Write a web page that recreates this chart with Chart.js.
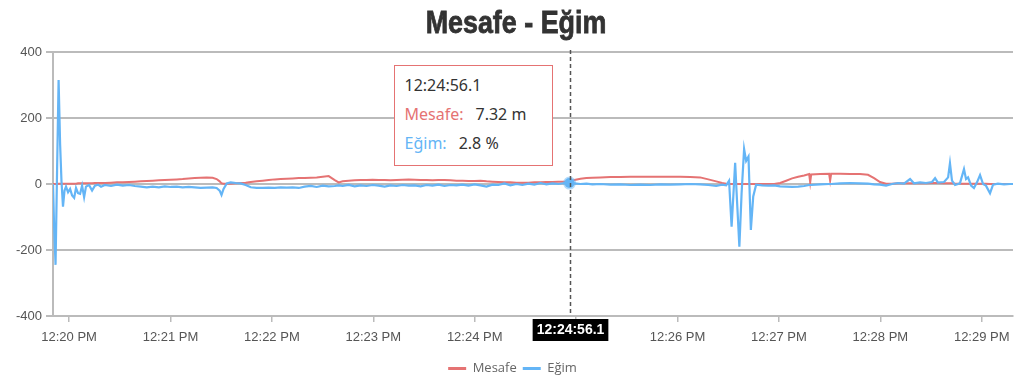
<!DOCTYPE html>
<html>
<head>
<meta charset="utf-8">
<script src="https://cdn.jsdelivr.net/npm/chart.js@4.4.1/dist/chart.umd.min.js"></script>
<style>
  html, body { margin: 0; padding: 0; background: #fff; }
  #wrap { position: relative; width: 1023px; height: 385px; }
  #tip {
    position: absolute; background: #fff; border: 1px solid #e57373;
    padding: 5px 7px 7px 10px; width: 140px; font-family: 'Noto Sans', sans-serif; font-size: 16px;
    line-height: 29px; color: #333; white-space: nowrap; opacity: 0; pointer-events: none;
  }
  #tip .lbl { display: inline-block; margin-right: 12px; }
</style>
</head>
<body>
<div id="wrap">
  <canvas id="myChart" width="1023" height="385"></canvas>
  <div id="tip"></div>
</div>
<script>
// seconds after 12:00:00 PM
const times = [
  1190.5, 1191.1, 1192.0, 1192.9, 1193.8, 1194.7, 1195.5, 1196.4, 1197.3, 1198.2,
  1199.4, 1200.6, 1201.8, 1203.0, 1204.1, 1205.3, 1206.5, 1207.7, 1208.9, 1210.0,
  1211.8, 1213.6, 1215.3, 1217.1, 1218.9, 1221.2, 1224.8, 1228.3, 1231.8, 1235.4,
  1238.9, 1242.5, 1246.0, 1249.5, 1253.1, 1256.6, 1260.1, 1263.7, 1267.2, 1270.8,
  1274.3, 1277.8, 1281.4, 1284.9, 1287.3, 1289.1, 1290.2, 1291.4, 1293.3, 1295.6,
  1298.6, 1301.5, 1304.5, 1307.5, 1311.0, 1314.6, 1318.1, 1321.7, 1325.2, 1328.8,
  1332.3, 1335.9, 1339.4, 1343.0, 1346.5, 1350.1, 1353.6, 1357.2, 1359.5, 1361.9,
  1365.4, 1369.0, 1372.5, 1376.0, 1379.6, 1383.1, 1386.7, 1390.2, 1393.8, 1397.3,
  1400.9, 1404.4, 1408.0, 1411.5, 1415.0, 1418.6, 1422.1, 1425.7, 1429.2, 1432.8,
  1436.3, 1439.9, 1443.4, 1447.0, 1450.5, 1454.0, 1457.6, 1461.1, 1464.7, 1468.2,
  1471.8, 1475.3, 1478.9, 1482.4, 1486.0, 1489.5, 1493.1, 1496.1, 1499.0, 1502.6,
  1506.1, 1509.7, 1514.4, 1520.3, 1526.2, 1532.1, 1538.0, 1543.9, 1549.8, 1555.7,
  1561.6, 1567.5, 1573.4, 1578.2, 1582.9, 1586.4, 1588.8, 1590.5, 1592.0, 1593.2,
  1594.1, 1595.3, 1596.6, 1597.9, 1599.4, 1600.6, 1602.0, 1603.4, 1604.8, 1606.5,
  1610.1, 1613.6, 1617.2, 1620.7, 1624.3, 1627.8, 1631.4, 1634.9, 1637.9, 1638.5,
  1639.1, 1644.4, 1649.7, 1650.3, 1650.9, 1656.2, 1662.1, 1668.0, 1672.7, 1676.3,
  1679.8, 1683.4, 1686.9, 1690.5, 1694.0, 1697.6, 1699.9, 1703.5, 1707.0, 1710.6,
  1712.4, 1714.1, 1717.7, 1720.1, 1721.2, 1722.4, 1724.2, 1727.1, 1729.5, 1730.7,
  1731.9, 1733.7, 1735.4, 1737.2, 1739.0, 1740.8, 1742.5, 1744.9, 1746.7, 1749.6,
  1753.2, 1756.7, 1758.5
];

const mesafe = [
  0, 0, 0, 0, 1, 1, 1, 1, 1, 1,
  1, 1, 1, 1, 1, 2, 2, 2, 2, 2,
  2, 2, 3, 3, 3, 3, 4, 5, 5, 6,
  7, 8, 9, 10, 11, 12, 13, 14, 15, 17,
  18, 19, 20, 19, 15, 8, 2, 1, 1, 1,
  2, 3, 4, 6, 8, 10, 12, 14, 15, 16,
  17, 18, 18, 19, 20, 22, 24, 12, 5, 8,
  10, 11, 12, 12, 13, 12, 12, 11, 12, 13,
  14, 13, 12, 12, 11, 12, 12, 11, 10, 10,
  9, 9, 10, 8, 7, 6, 5, 5, 4, 4,
  4, 5, 5, 6, 6, 7, 7, 7.32, 12, 16,
  18, 19, 20, 21, 21, 22, 22, 22, 22, 22,
  22, 21, 20, 14, 8, 3, 1, 0, 0, 0,
  0, 0, 0, 0, 0, 0, 0, 0, 0, 0,
  0, 0, 0, 3, 10, 17, 22, 26, 30, 5,
  29, 30, 31, 10, 31, 31, 30, 30, 28, 18,
  6, 1, 1, 2, 2, 2, 2, 3, 2, 3,
  3, 3, 2, 2, 2, 2, 1, 1, 1, 1,
  1, 1, 1, 1, 1, 1, 1, 0, 0, 0,
  0, 0, 0
];

const egim = [
  0, -120, -245, 40, 315, 120, 10, -69, -20, -8,
  -25, -15, -35, -42, -12, -28, -30, -5, -40, -8,
  -3, -20, -5, -2, -8, -3, -6, -2, -5, -3,
  -6, -8, -10, -8, -10, -7, -9, -8, -10, -9,
  -10, -12, -11, -10, -12, -20, -33, -15, 2, 5,
  3, 2, -3, -10, -12, -12, -11, -12, -10, -11,
  -10, -12, -8, -6, -9, -5, -7, -6, -4, -6,
  -3, -7, -4, -6, -3, -5, -8, -4, -6, -3,
  -5, -4, -7, -3, -5, -2, -6, -3, -4, -2,
  -5, -1, -4, -8, -2, -3, 2, -4, 0, -3,
  1, -2, 3, -1, 2, 0, 3, 2.8, 2, 0,
  1, -1, 0, -2, -1, -3, -2, -3, -1, -2,
  -1, 0, -1, -3, -6, -2, -4, 10, -129, -20,
  64, -60, -190, -30, 106, 70, 83, -139, -38, -2,
  -4, -5, -4, -7, -8, -9, -8, -6, -3, -3,
  -3, -1, 0, 0, 0, 2, 3, 2, 1, -1,
  -2, -5, 0, 3, 1, 15, 2, 5, 3, 6,
  18, 4, 6, 20, 63, 10, -3, 2, 45, 15,
  20, -5, -12, 5, 27, 0, -5, -28, -2, 1,
  -1, 0, 0
];

const yTicks = [-400, -200, 0, 200, 400];
const activeTime = 1496.1;
const titleText = 'Mesafe - Eğim';

const RED = '#e57373';
const BLUE = '#64b5f6';
const AXIS_FONT = "'Liberation Sans', Arial, sans-serif";

function pad(n) { return String(n).padStart(2, '0'); }
function clockLabel(sec) {
  const m = Math.floor(sec / 60);
  const s = (sec - m * 60).toFixed(1);
  return '12:' + pad(m) + ':' + (s.length < 4 ? '0' + s : s);
}

const activeIndex = times.indexOf(activeTime);

function tipHandler(context) {
  const { chart, tooltip } = context;
  const el = document.getElementById('tip');
  if (tooltip.opacity === 0) { el.style.opacity = 0; return; }
  const i = tooltip.dataPoints[0].dataIndex;
  el.innerHTML =
    '<div>' + clockLabel(times[i]) + '</div>' +
    '<div><span class="lbl" style="color:' + RED + '">Mesafe:</span>' + mesafe[i] + ' m</div>' +
    '<div><span class="lbl" style="color:' + BLUE + '">Eğim:</span>' + egim[i] + ' %</div>';
  el.style.opacity = 1;
  el.style.left = (tooltip.caretX - 176) + 'px';
  el.style.top = (chart.chartArea.top + 13) + 'px';
}

// condensed heavy title, drawn over the (transparent) Chart.js title box
const narrowTitle = {
  id: 'narrowTitle',
  afterDraw(chart) {
    const ctx = chart.ctx;
    ctx.save();
    ctx.font = "bold 32px 'Liberation Sans', Arial, sans-serif";
    ctx.fillStyle = '#333';
    ctx.textAlign = 'center';
    ctx.textBaseline = 'alphabetic';
    ctx.translate(516, 33);
    ctx.scale(0.84, 1);
    ctx.fillText(titleText, 0, 0);
    ctx.strokeStyle = '#333';
    ctx.lineWidth = 0.8;
    ctx.strokeText(titleText, 0, 0);
    ctx.restore();
  }
};

const crosshair = {
  id: 'crosshair',
  afterDraw(chart) {
    const ctx = chart.ctx;
    const area = chart.chartArea;
    const x = Math.round(chart.scales.x.getPixelForValue(activeTime)) + 0.5;
    ctx.save();
    ctx.strokeStyle = '#555';
    ctx.lineWidth = 1.5;
    ctx.setLineDash([4, 3]);
    ctx.beginPath();
    ctx.moveTo(x, area.top - 2);
    ctx.lineTo(x, area.bottom);
    ctx.stroke();
    ctx.setLineDash([]);
    const text = clockLabel(activeTime);
    ctx.font = "bold 14px " + AXIS_FONT;
    const w = ctx.measureText(text).width + 8;
    ctx.fillStyle = '#000';
    ctx.fillRect(x - w / 2, area.bottom + 3, w, 22);
    ctx.fillStyle = '#fff';
    ctx.textAlign = 'center';
    ctx.textBaseline = 'middle';
    ctx.fillText(text, x, area.bottom + 14.5);
    ctx.restore();
  }
};

const ctx = document.getElementById('myChart').getContext('2d');
const myChart = new Chart(ctx, {
  type: 'line',
  data: {
    datasets: [{
      label: 'Mesafe',
      data: times.map((t, i) => ({ x: t, y: mesafe[i] })),
      borderColor: RED,
      backgroundColor: RED,
      borderWidth: 2,
      pointRadius: 0,
      pointHoverRadius: 0,
      order: 1
    }, {
      label: 'Eğim',
      data: times.map((t, i) => ({ x: t, y: egim[i] })),
      borderColor: BLUE,
      backgroundColor: BLUE,
      borderWidth: 2.2,
      pointRadius: 0,
      pointHoverRadius: 5,
      pointHoverBackgroundColor: BLUE,
      pointHoverBorderColor: 'rgba(100,181,246,0.5)',
      pointHoverBorderWidth: 3,
      order: 0
    }]
  },
  options: {
    responsive: false,
    animation: false,
    events: [],
    layout: { padding: { left: 12, right: 10, top: 0, bottom: 0 } },
    scales: {
      x: {
        type: 'linear',
        min: times[0],
        max: times[times.length - 1],
        border: { color: '#bbb', width: 2 },
        grid: { drawOnChartArea: false, drawTicks: true, tickLength: 6, color: '#bbb', lineWidth: 1.5 },
        afterFit: scale => { scale.height = 40; },
        ticks: {
          stepSize: 60,
          includeBounds: false,
          maxTicksLimit: 20,
          autoSkip: false,
          maxRotation: 0,
          color: '#555',
          font: { family: AXIS_FONT, size: 13 },
          padding: 8,
          callback: v => '12:' + pad(Math.round(v / 60)) + ' PM'
        }
      },
      y: {
        min: yTicks[0],
        max: yTicks[yTicks.length - 1],
        border: { color: '#bbb', width: 2 },
        grid: { color: '#bbb', lineWidth: 2, tickLength: 7 },
        afterBuildTicks: scale => { scale.ticks = yTicks.map(v => ({ value: v })); },
        ticks: {
          color: '#555',
          font: { family: AXIS_FONT, size: 13 },
          padding: 4
        }
      }
    },
    plugins: {
      title: {
        display: true,
        text: titleText,
        color: 'rgba(0,0,0,0)',
        font: { family: AXIS_FONT, size: 30, weight: 'bold' },
        padding: { top: 4, bottom: 12 }
      },
      legend: {
        position: 'bottom',
        labels: {
          boxWidth: 18,
          boxHeight: 3,
          color: '#666',
          font: { family: "'Open Sans', sans-serif", size: 13 },
          padding: 6,
          sort: (a, b) => a.datasetIndex - b.datasetIndex,
          generateLabels: chart => Chart.defaults.plugins.legend.labels.generateLabels(chart)
            .map(l => Object.assign(l, { lineWidth: 0 }))
        }
      },
      tooltip: {
        enabled: false,
        mode: 'index',
        intersect: false,
        external: tipHandler
      }
    }
  },
  plugins: [crosshair, narrowTitle]
});

const activeEls = [{ datasetIndex: 0, index: activeIndex }, { datasetIndex: 1, index: activeIndex }];
myChart.setActiveElements(activeEls);
myChart.tooltip.setActiveElements(activeEls, {
  x: myChart.scales.x.getPixelForValue(activeTime),
  y: myChart.scales.y.getPixelForValue(0)
});
myChart.update();
</script>
</body>
</html>
